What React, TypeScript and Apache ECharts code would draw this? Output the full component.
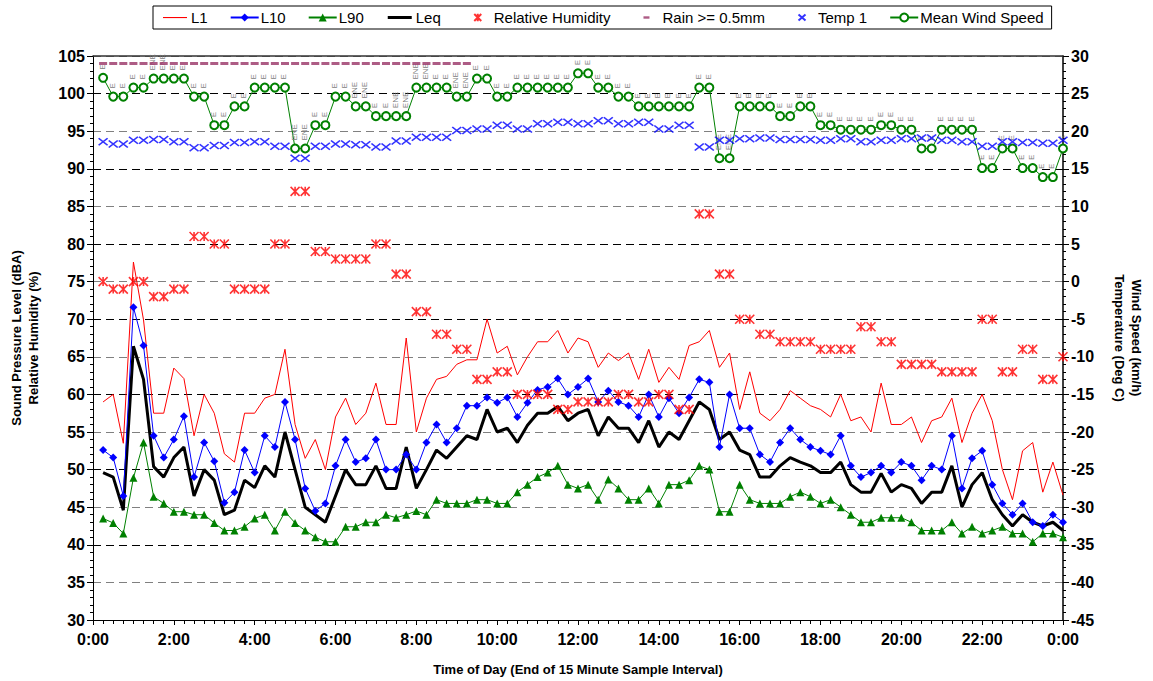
import React, { useEffect, useRef } from 'react';
import * as echarts from 'echarts';

// 15-minute interval end times are index+1 quarters of an hour (0:15 ... 24:00)
const l1 = [
  59.0, 60.0, 53.5, 77.6, 69.9, 57.5, 57.5, 63.5, 62.1, 54.5, 60.0, 57.5, 52.1, 51.0, 57.5, 57.5, 59.5, 60.0, 66.0, 56.0,
  51.5, 54.0, 50.0, 57.0, 59.5, 56.0, 57.5, 61.5, 56.0, 56.0, 67.5, 55.0, 59.5, 62.0, 62.4, 64.0, 64.6, 64.6, 70.0, 65.5,
  66.4, 62.6, 65.0, 67.0, 67.0, 68.5, 65.5, 67.5, 67.0, 63.6, 65.5, 64.5, 65.5, 62.0, 66.0, 61.6, 63.6, 62.0, 66.5, 67.0,
  68.5, 63.6, 65.5, 58.0, 63.0, 57.5, 56.5, 58.0, 60.5, 59.5, 58.5, 58.0, 57.0, 60.0, 56.5, 57.0, 55.0, 61.5, 56.0, 56.0,
  57.0, 53.6, 56.5, 57.0, 59.5, 53.6, 57.5, 60.0, 56.5, 50.0, 46.0, 52.5, 53.6, 47.0, 51.0, 46.6,
];
const l10 = [
  52.6, 51.6, 46.5, 71.6, 66.5, 54.5, 51.6, 54.0, 57.1, 49.0, 53.6, 51.1, 45.6, 47.0, 52.6, 49.6, 54.5, 53.0, 59.0, 54.0,
  47.5, 44.5, 45.5, 50.5, 54.0, 51.0, 51.5, 54.0, 50.0, 50.0, 52.0, 50.0, 53.6, 56.0, 53.6, 55.5, 58.5, 58.5, 59.6, 58.9,
  59.6, 57.0, 58.9, 60.6, 61.0, 62.1, 60.0, 61.0, 62.1, 59.0, 60.5, 59.0, 58.5, 57.0, 60.0, 57.0, 59.5, 57.5, 59.6, 62.0,
  61.6, 53.0, 60.0, 55.5, 55.5, 52.0, 51.0, 53.6, 55.5, 54.0, 53.0, 52.5, 52.0, 54.5, 50.5, 49.0, 49.6, 50.5, 49.6, 51.0,
  50.5, 48.6, 50.5, 50.0, 54.5, 47.5, 51.5, 52.5, 48.0, 45.5, 44.0, 45.5, 43.0, 42.5, 44.0, 43.0,
];
const l90 = [
  43.5, 42.9, 41.5, 48.9, 53.6, 46.4, 45.5, 44.4, 44.4, 44.0, 44.0, 42.9, 41.9, 41.9, 42.4, 43.5, 44.0, 41.9, 44.4, 42.9,
  41.9, 41.0, 40.4, 40.4, 42.4, 42.4, 43.0, 43.0, 44.0, 43.6, 44.0, 44.5, 44.0, 46.0, 45.5, 45.5, 45.5, 46.0, 46.0, 45.5,
  45.5, 47.0, 48.0, 49.0, 49.6, 50.5, 48.0, 47.5, 48.0, 46.0, 48.7, 47.5, 46.0, 46.0, 47.5, 45.5, 48.0, 48.0, 48.6, 50.5,
  50.0, 44.4, 44.4, 48.0, 46.0, 45.5, 45.5, 45.5, 46.4, 47.0, 46.4, 45.5, 46.0, 45.0, 44.0, 43.0, 43.0, 43.6, 43.6, 43.6,
  43.0, 41.9, 41.9, 41.9, 43.0, 41.5, 42.4, 41.5, 41.9, 42.4, 41.5, 41.5, 40.4, 41.5, 41.5, 41.0,
];
const leq = [
  49.6, 49.0, 44.6, 66.4, 62.0, 50.4, 49.0, 51.6, 53.0, 46.5, 50.0, 48.6, 44.0, 44.6, 48.6, 47.6, 50.5, 49.0, 55.0, 50.0,
  45.0, 44.0, 43.0, 46.5, 50.0, 48.0, 48.0, 50.5, 47.5, 47.5, 53.0, 47.5, 50.0, 52.6, 51.5, 53.0, 54.5, 54.0, 58.0, 55.0,
  55.5, 53.6, 55.9, 57.5, 57.5, 58.4, 56.5, 57.5, 58.0, 54.5, 57.0, 55.5, 55.5, 53.6, 56.5, 53.0, 55.0, 54.0, 56.5, 59.0,
  58.0, 54.0, 55.0, 52.6, 52.0, 49.0, 49.0, 50.5, 51.6, 51.0, 50.5, 49.6, 49.6, 51.0, 48.0, 47.0, 47.0, 49.5, 47.0, 48.0,
  47.5, 45.5, 47.0, 47.0, 50.5, 45.0, 48.0, 49.6, 46.0, 44.0, 42.5, 44.0, 43.0, 42.5, 43.0, 41.9,
];
const humidity = [
  75, 74, 74, 75, 75, 73, 73, 74, 74, 81, 81, 80, 80, 74, 74, 74, 74, 80, 80, 87,
  87, 79, 79, 78, 78, 78, 78, 80, 80, 76, 76, 71, 71, 68, 68, 66, 66, 62, 62, 63,
  63, 60, 60, 60, 60, 58, 58, 59, 59, 59, 59, 60, 60, 59, 59, 60, 60, 58, 58, 84,
  84, 76, 76, 70, 70, 68, 68, 67, 67, 67, 67, 66, 66, 66, 66, 69, 69, 67, 67, 64,
  64, 64, 64, 63, 63, 63, 63, 70, 70, 63, 63, 66, 66, 62, 62, 65,
];
// rain flag plotted near the top of the chart for the first 37 intervals
const rain = [
  104, 104, 104, 104, 104, 104, 104, 104, 104, 104, 104, 104, 104, 104, 104, 104, 104, 104, 104, 104,
  104, 104, 104, 104, 104, 104, 104, 104, 104, 104, 104, 104, 104, 104, 104, 104, 104,
];
const temp1 = [
  18.6, 18.3, 18.3, 18.8, 18.8, 18.9, 18.9, 18.6, 18.6, 17.8, 17.8, 18.1, 18.1, 18.5, 18.5, 18.6, 18.6, 18.0, 18.0, 16.4,
  16.4, 18.0, 18.0, 18.3, 18.3, 18.2, 18.2, 17.9, 17.9, 18.7, 18.7, 19.2, 19.2, 19.2, 19.2, 20.1, 20.1, 20.3, 20.3, 20.8,
  20.8, 20.3, 20.3, 21.0, 21.0, 21.2, 21.2, 21.0, 21.0, 21.4, 21.4, 21.0, 21.0, 21.2, 21.2, 20.3, 20.3, 20.8, 20.8, 17.9,
  17.9, 18.8, 18.8, 19.0, 19.0, 19.1, 19.1, 18.9, 18.9, 18.9, 18.9, 18.8, 18.8, 19.0, 19.0, 18.6, 18.6, 18.8, 18.8, 19.0,
  19.0, 19.1, 19.1, 18.8, 18.8, 18.6, 18.6, 18.0, 18.0, 18.6, 18.6, 18.5, 18.5, 18.4, 18.4, 18.8,
];
const windSpeed = [
  27.1, 24.6, 24.6, 25.8, 25.8, 27.0, 27.0, 27.0, 27.0, 24.6, 24.6, 20.8, 20.8, 23.3, 23.3, 25.8, 25.8, 25.8, 25.8, 17.7,
  17.7, 20.8, 20.8, 24.6, 24.6, 23.3, 23.3, 22.0, 22.0, 22.0, 22.0, 25.8, 25.8, 25.8, 25.8, 24.6, 24.6, 27.0, 27.0, 24.6,
  24.6, 25.8, 25.8, 25.8, 25.8, 25.8, 25.8, 27.7, 27.7, 25.8, 25.8, 24.6, 24.6, 23.3, 23.3, 23.3, 23.3, 23.3, 23.3, 25.8,
  25.8, 16.4, 16.4, 23.3, 23.3, 23.3, 23.3, 22.0, 22.0, 23.3, 23.3, 20.8, 20.8, 20.2, 20.2, 20.2, 20.2, 20.8, 20.8, 20.2,
  20.2, 17.7, 17.7, 20.2, 20.2, 20.2, 20.2, 15.1, 15.1, 17.7, 17.7, 15.1, 15.1, 13.9, 13.9, 17.7,
];
const windDir = [
  'E', 'E', 'E', 'E', 'E', 'ENE', 'ENE', 'E', 'E', 'E',
  'E', 'E', 'E', 'E', 'E', 'E', 'E', 'E', 'E', 'ENE',
  'ENE', 'E', 'E', 'E', 'E', 'ENE', 'ENE', 'E', 'E', 'ENE',
  'ENE', 'ENE', 'ENE', 'E', 'E', 'ENE', 'ENE', 'E', 'E', 'E',
  'E', 'E', 'E', 'E', 'E', 'E', 'E', 'E', 'E', 'E',
  'E', 'E', 'E', 'E', 'E', 'E', 'E', 'E', 'E', 'E',
  'E', 'ENE', 'ENE', 'E', 'E', 'E', 'E', 'E', 'E', 'E',
  'E', 'E', 'E', 'E', 'E', 'E', 'E', 'E', 'E', 'E',
  'E', 'E', 'E', 'E', 'E', 'E', 'E', 'E', 'E', 'E',
  'E', 'E', 'E', 'E', 'E', 'E',
];
const xTickHours = [0, 2, 4, 6, 8, 10, 12, 14, 16, 18, 20, 22, 24];

const FONT = 'Arial, "Liberation Sans", Helvetica, sans-serif';
const NARROW = '"Liberation Sans Narrow", "Arial Narrow", Arial, sans-serif';

const ASTERISK = 'path://M0,0L10,10M10,0L0,10M5,0L5,10';
const XMARK = 'path://M0,0L10,10M10,0L0,10';

// legend icons drawn inside a 28x10 box (move-to corner points fix the box without drawing)
const BOX = 'M0,0M28,10';
const ICON_THIN = 'path://' + BOX + 'M2,4.5L26,4.5L26,5.6L2,5.6Z';
const ICON_THICK = 'path://' + BOX + 'M2,3.5L26,3.5L26,6.5L2,6.5Z';
const ICON_RAIN = 'path://' + BOX + 'M11,3.8L17,3.8L17,6.2L11,6.2Z';
const ICON_AST = 'path://' + BOX + 'M10.5,1.5L17.5,8.5M17.5,1.5L10.5,8.5M14,1.2L14,8.8';
const ICON_X = 'path://' + BOX + 'M10.5,2L17.5,8M17.5,2L10.5,8';

export default function App() {
  const ref = useRef<HTMLDivElement>(null);
  useEffect(() => {
    const chart = echarts.init(ref.current as HTMLDivElement, null, { renderer: 'svg' });
    const xy = (arr: number[]) => arr.map((v, i) => [(i + 1) * 0.25, v]);
    const option: any = {
      animation: false,
      backgroundColor: '#ffffff',
      textStyle: { fontFamily: FONT },
      legend: {
        top: 6,
        left: 153,
        borderColor: '#000',
        borderWidth: 1,
        padding: [4, 8],
        itemGap: 22,
        itemWidth: 28,
        itemHeight: 10,
        textStyle: { fontSize: 15, fontFamily: NARROW, color: '#000', padding: [0, 0, 0, -3] },
        data: [
          { name: 'L1', icon: ICON_THIN, itemStyle: { color: '#ff0000', borderWidth: 0 } },
          { name: 'L10' },
          { name: 'L90' },
          { name: 'Leq', icon: ICON_THICK, itemStyle: { color: '#000000', borderWidth: 0 } },
          { name: 'Relative Humidity', icon: ICON_AST },
          { name: 'Rain >= 0.5mm', icon: ICON_RAIN },
          { name: 'Temp 1', icon: ICON_X },
          { name: 'Mean Wind Speed' },
        ],
      },
      grid: { left: 90, right: 77, top: 56, bottom: 61, containLabel: false },
      xAxis: [
        {
          type: 'value',
          min: 0,
          max: 24,
          interval: 2,
          axisLine: { show: true, onZero: false, lineStyle: { color: '#000', width: 1 } },
          axisTick: { show: true, inside: false, length: 5, lineStyle: { color: '#000' } },
          minorTick: { show: true, splitNumber: 8, length: 4, lineStyle: { color: '#000' } },
          splitLine: { show: false },
          axisLabel: {
            fontSize: 16,
            fontWeight: 'bold',
            color: '#000',
            margin: 11,
            formatter: (v: number) => (xTickHours.includes(v) ? `${v % 24}:00` : ''),
          },
          name: 'Time of Day (End of 15 Minute Sample Interval)',
          nameLocation: 'middle',
          nameGap: 43,
          nameTextStyle: { fontSize: 13, fontWeight: 'bold', color: '#000' },
        },
        {
          type: 'value',
          position: 'top',
          min: 0,
          max: 24,
          axisLine: { show: true, onZero: false, lineStyle: { color: '#333', width: 1.5 } },
          axisTick: { show: false },
          axisLabel: { show: false },
          splitLine: { show: false },
        },
      ],
      yAxis: [
        {
          type: 'value',
          min: 30,
          max: 105,
          interval: 5,
          axisLine: { show: true, onZero: false, lineStyle: { color: '#000', width: 1 } },
          axisTick: { show: true, length: 6, lineStyle: { color: '#000' } },
          minorTick: { show: true, splitNumber: 5, length: 3, lineStyle: { color: '#000' } },
          splitLine: { show: true, lineStyle: { color: ['#000000', '#808080'], type: [8, 5], width: 1 } },
          axisLabel: { fontSize: 16, fontWeight: 'bold', color: '#000', margin: 8 },
          name: 'Sound Pressure Level (dBA)\nRelative Humidity (%)',
          nameLocation: 'middle',
          nameRotate: 90,
          nameGap: 51,
          nameTextStyle: { fontSize: 13, fontWeight: 'bold', color: '#000', lineHeight: 17 },
        },
        {
          type: 'value',
          min: -45,
          max: 30,
          interval: 5,
          position: 'right',
          axisLine: { show: true, onZero: false, lineStyle: { color: '#000', width: 1.5 } },
          axisTick: { show: true, length: 6, lineStyle: { color: '#000' } },
          minorTick: { show: true, splitNumber: 5, length: 3, lineStyle: { color: '#000' } },
          splitLine: { show: false },
          axisLabel: { fontSize: 16, fontWeight: 'bold', color: '#000', margin: 8 },
          name: 'Wind Speed (km/h)\nTemperature (Deg C)',
          nameLocation: 'middle',
          nameRotate: -90,
          nameGap: 48,
          nameTextStyle: { fontSize: 13, fontWeight: 'bold', color: '#000', lineHeight: 17 },
        },
      ],
      series: [
        {
          name: 'L1',
          type: 'line',
          data: xy(l1),
          showSymbol: false,
          symbol: 'none',
          lineStyle: { color: '#ff0000', width: 1 },
          itemStyle: { color: '#ff0000' },
          z: 3,
        },
        {
          name: 'L10',
          type: 'line',
          data: xy(l10),
          symbol: 'diamond',
          symbolSize: 8,
          lineStyle: { color: '#0000ff', width: 1 },
          itemStyle: { color: '#0000ff' },
          z: 4,
        },
        {
          name: 'L90',
          type: 'line',
          data: xy(l90),
          symbol: 'triangle',
          symbolSize: 8,
          lineStyle: { color: '#008000', width: 1 },
          itemStyle: { color: '#008000' },
          z: 4,
        },
        {
          name: 'Leq',
          type: 'line',
          data: xy(leq),
          symbol: 'none',
          lineStyle: { color: '#000000', width: 3 },
          itemStyle: { color: '#000000' },
          z: 3,
        },
        {
          name: 'Relative Humidity',
          type: 'scatter',
          data: xy(humidity),
          symbol: ASTERISK,
          symbolSize: 9,
          itemStyle: { color: 'rgba(0,0,0,0)', borderColor: '#ff0000', borderWidth: 1.6 },
          z: 5,
        },
        {
          name: 'Rain >= 0.5mm',
          type: 'scatter',
          data: xy(rain),
          symbol: 'rect',
          symbolSize: [8, 3],
          itemStyle: { color: '#993366' },
          z: 5,
        },
        {
          name: 'Temp 1',
          type: 'scatter',
          yAxisIndex: 1,
          data: xy(temp1),
          symbol: XMARK,
          symbolSize: [9, 7],
          itemStyle: { color: 'rgba(0,0,0,0)', borderColor: '#0000ff', borderWidth: 1.5 },
          z: 5,
        },
        {
          name: 'Mean Wind Speed',
          type: 'line',
          yAxisIndex: 1,
          data: xy(windSpeed),
          symbol: 'emptyCircle',
          symbolSize: 8,
          lineStyle: { color: '#008000', width: 1 },
          itemStyle: { color: '#008000', borderWidth: 1.2 },
          label: {
            show: true,
            position: [4, -3],
            rotate: 90,
            align: 'left',
            verticalAlign: 'middle',
            fontSize: 8,
            color: '#808080',
            fontFamily: FONT,
            formatter: (p: any) => windDir[p.dataIndex],
          },
          z: 4,
        },
      ],
    };
    chart.setOption(option);
    return () => chart.dispose();
  }, []);
  return (
    <div
      ref={ref}
      style={{ position: 'fixed', left: 0, top: 0, width: 1153, height: 681, background: '#fff' }}
    />
  );
}
